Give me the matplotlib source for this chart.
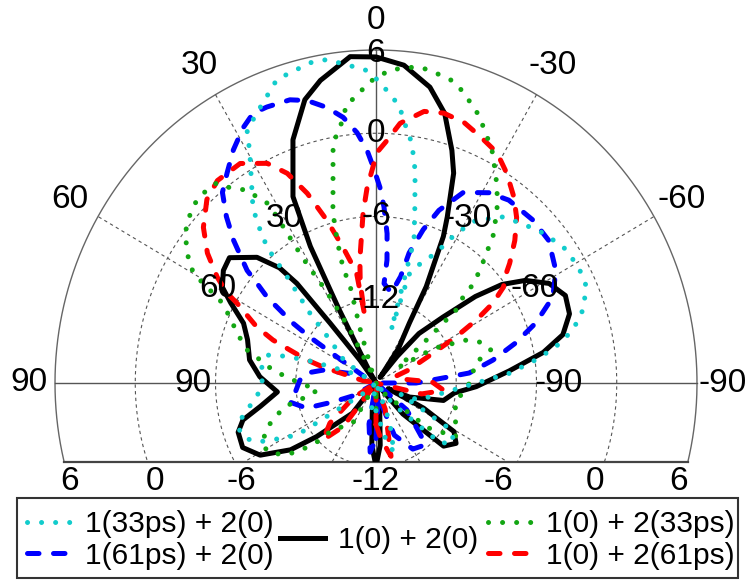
import numpy as np
import matplotlib
matplotlib.use("Agg")
import matplotlib.pyplot as plt
from matplotlib.patches import Rectangle

plt.rcParams['font.family'] = ['Liberation Sans', 'DejaVu Sans']

# ---------------- data (angle in degrees, level in dB) ----------------
theta_black = [-180, -176, -172, -165, -145, -138, -132, -126, -121, -117, -114,
               -112, -104, -97, -92, -85, -80, -76, -71, -66, -61,
               -56.5, -53, -50, -46.5, -42, -39.5, -37, -34, -30, -28.4,
               -25.5, -24, -21, -18.7, -14.8, -10.7, -5.2, 0, 4.7, 10.8,
               14.6, 19.5, 24.8, 26.5, 27.5, 30, 34, 36, 38.5, 39.5,
               41, 44.5, 50.5, 54.6, 59, 62, 66.5, 72, 80, 87,
               95, 101, 105, 109, 115, 121, 127, 131, 141, 150,
               165, 172, 176, 180]
db_black = [-12, -13.5, -16, -18, -18, -15, -11.2, -10.6, -11.2, -14, -17,
            -15.3, -12.8, -12.1, -10.5, -8, -5.3, -3.6, -2.7, -2.5, -3.2,
            -4.6, -6.2, -8.3, -11.1, -13.2, -15.5, -17.5, -15, -13, -10.1,
            -6.3, -4.9, -1.8, -0.3, 2.1, 3.7, 5.0, 5.5, 5.6, 4.2,
            3.1, 0.6, -3.2, -7, -12, -17, -18, -16, -12.5, -8.7,
            -7, -5.3, -3.8, -4.0, -4.6, -5.7, -7.2, -7.9, -8.4, -9.3,
            -10.6, -9.2, -7.7, -7.1, -7.0, -7.9, -10, -12.1, -15.2, -18,
            -18, -16, -13.5, -12]

theta_cyan = [-180, -170, -165, -160, -150, -140, -132, -126, -121, -117,
              -114, -111, -98, -90, -86, -82, -79, -75.5, -71, -66,
              -61, -55, -49, -44, -38.5, -32.5, -29, -25.6, -21, -17.5,
              -16.5, -15.8, -15.4, -13.1, -10.8, -8.8, -7.2, -4.9, -2.9, -0.8,
              2.1, 9, 12, 18.7, 24.6, 27.9, 29.6, 35.9, 37.5, 39.8,
              41, 42.6, 44.4, 46, 48, 55, 62, 72, 74, 76,
              84, 89.5, 95.6, 103.8, 107.4, 112, 115.7, 117.8, 119.6, 122.4,
              123, 124, 130, 150, 170, 180]
db_cyan = [-16, -14, -12.8, -15, -18, -16, -11.5, -10.8, -11.5, -15,
           -16, -14.6, -12.9, -10.5, -8.0, -5.9, -4.3, -2.8, -1.6, -0.8,
           -0.7, -0.9, -1.5, -2.1, -2.7, -4.1, -5.7, -7.6, -8.8, -9.8,
           -14, -10.3, -7.3, -5.2, -2.4, -0.5, 0.4, 2.1, 2.8, 3.7,
           4.6, 5.6, 5.6, 5.1, 3.4, 2.6, 1.1, -2.3, -3.4, -5.3,
           -7.9, -9.6, -10.9, -12.2, -13.4, -15, -17, -13, -11, -9.7,
           -9.3, -9.5, -9.1, -7.7, -7.2, -7.4, -8.2, -9.2, -10, -11,
           -12.8, -14.8, -17, -18, -16, -16]

theta_blue = [-180, -170, -160, -150, -140, -130, -120, -100, -90, -85.9,
              -84.1, -79.3, -74.6, -70.1, -64.9, -58.9, -51.5, -45, -37, -31.6,
              -25.4, -20.7, -17.7, -14.8, -13.5, -10, -4.8, -5.3, -4.4, -2.7,
              -1.2, 0.8, 2.3, 4.5, 7.3, 10.5, 14.2, 17.5, 22.3, 25.3,
              28.4, 32.4, 36.3, 39.9, 43, 46, 49.9, 51, 52.8, 53.8,
              55.2, 56.2, 57.2, 62, 70, 77, 82, 88, 96.8, 102,
              109.2, 113, 118, 130, 160, 170, 175, 180]
db_blue = [-14, -17, -14, -12.5, -12.2, -15, -18, -18, -15, -13,
           -11, -9.1, -7.2, -5.3, -3.4, -2.3, -1.5, -1.4, -1.5, -1.9,
           -2.8, -4.7, -6.4, -8.3, -10.1, -11.4, -10.8, -9.1, -7.2, -5.3,
           -3.9, -2.4, -1.2, 0.1, 1.3, 2.2, 3.0, 3.4, 3.5, 3.5,
           2.9, 1.9, 0.8, -0.1, -1.6, -3.2, -5.4, -6.5, -7.8, -9.1,
           -10.4, -12, -14.5, -17, -16, -13.9, -12.8, -12.3, -11.9, -11.4,
           -12.5, -14.5, -16, -18, -18, -15, -13, -14]

theta_red = [-180, -175, -168, -160, -140, -110, -103, -96, -89, -82,
             -72, -69, -63.2, -61, -58.8, -56.6, -54, -52.2, -49.2, -45.3,
             -41.4, -37.6, -32.9, -28.6, -23.7, -19.3, -14.6, -10.4, -5.5, -2.7,
             -0.2, 0.8, 2.7, 4.5, 7.7, 9.3, 9.8, 10.4, 14.2, 17.4,
             20.6, 23.7, 27.2, 32.7, 39.1, 43.7, 49, 53.4, 57.3, 59.8,
             61, 65.6, 68.1, 69.7, 72.2, 73.8, 80, 100, 122, 130,
             136, 142, 150, 170, 180]
db_red = [-15, -14, -12.6, -16, -18, -18, -14.5, -12.9, -13.8, -16,
          -16.5, -15.4, -13.2, -11.2, -9.2, -7.5, -6.2, -5.9, -4.8, -3.4,
          -2.1, -1.1, 0, 0.9, 1.4, 1.9, 2.1, 1.9, 0.8, -0.5,
          -1.4, -2.4, -3.9, -5.7, -9, -10.7, -13, -9.9, -7.9, -5.7,
          -3.4, -1.5, -0.2, 0.8, 0.8, 0.3, -0.9, -2.3, -3.9, -5.1,
          -6.1, -8.2, -9.7, -11.1, -12.6, -13.9, -17, -18, -16, -13.5,
          -12.3, -14, -18, -18, -15]

theta_green = [-180, -160, -140, -130, -123, -115.7, -103.5, -90, -79, -74.4,
               -70, -65.5, -60, -56, -51, -48.7, -46.4, -45.5, -42.3, -39.3,
               -35.5, -32.6, -29.7, -27.3, -23.6, -21.2, -17.5, -15, -10.1, -7.7,
               -2.7, 1.8, 3.9, 6.1, 8.3, 10.5, 11.3, 12.8, 14.7, 15.8,
               16.5, 15.5, 17, 22, 27, 29, 30, 31, 31.4, 31.6,
               31.7, 32.1, 33.6, 34.7, 37.8, 39.5, 42.2, 45.4, 48.6, 52.9,
               56.5, 59, 60.6, 62.9, 66.5, 70.9, 76.2, 79.2, 83, 86.3,
               90, 96.5, 100, 104, 109, 113, 118, 122.5, 127.4, 130,
               132, 134.5, 136, 149, 158, 180]
db_green = [-16, -18, -17, -13, -10.9, -11.4, -11.9, -11, -10.4, -9.1,
            -9.5, -10.5, -13, -16, -13.5, -10, -9, -7.7, -6, -4.1,
            -2.4, -1.2, -0.1, 0.9, 2.1, 2.9, 3.9, 4.5, 4.9, 5.0,
            4.6, 3.6, 2.7, 2.3, 0.6, -0.4, -1.6, -3.5, -5.3, -7.3,
            -9.3, -10.8, -14, -17.5, -13.5, -11, -9.5, -8.2, -6.7, -5.3,
            -3.9, -2.7, -1.9, -1.1, -0.2, 0.7, 0.8, 0.8, 0.5, -0.1,
            -1.1, -1.8, -2.9, -4.9, -6.1, -7, -8.1, -9.2, -10.2, -11.3,
            -12.3, -13.6, -13, -11, -9.8, -9, -8.4, -8.6, -9.5, -10.3,
            -11.1, -12.1, -13.3, -14.6, -18, -16]

labels = ['1(33ps) + 2(0)', '1(61ps) + 2(0)', '1(0) + 2(0)',
          '1(0) + 2(33ps)', '1(0) + 2(61ps)']

r_min, r_max = -18, 6
ring_values = [-12, -6, 0, 6]
angle_ticks = [0, 30, 60, 90, -30, -60, -90]
bottom_tick_labels = ['6', '0', '-6', '-12', '-6', '0', '6']

# ---------------- figure ----------------
W, H = 754, 580
fig = plt.figure(figsize=(W / 100, H / 100), dpi=100)
# polar axes box (elliptical), bottom part falls below the figure and is cut
ax = fig.add_axes([55 / W, -136 / H, 642 / W, 666 / H], projection='polar')
ax.set_aspect('auto')
ax.set_theta_zero_location('N')
ax.set_theta_direction(1)
ax.set_rlim(r_min, r_max)
ax.grid(False)
ax.set_xticks([])
ax.set_yticks([])
ax.spines['polar'].set_visible(False)
ax.patch.set_visible(False)

ybot = 0.3814  # axes-fraction height of the cut line


def clip(artist):
    rect = Rectangle((-0.2, ybot), 1.4, 1.4, transform=ax.transAxes)
    artist.set_clip_path(rect)
    return artist


grid_col = '#555555'
th_full = np.linspace(0, 2 * np.pi, 721)
for v in ring_values:
    if v == r_max:
        ln, = ax.plot(th_full, np.full_like(th_full, v), color='#666666', lw=1.0, zorder=1)
    else:
        ln, = ax.plot(th_full, np.full_like(th_full, v), color=grid_col, lw=0.8,
                      ls=(0, (3, 3)), zorder=1)
    clip(ln)
for a in range(0, 360, 30):
    t = np.deg2rad(a)
    if a % 90 == 0:
        ln, = ax.plot([t, t], [r_min, r_max], color='#555555', lw=1.0, zorder=1)
    else:
        ln, = ax.plot([t, t], [r_min, r_max], color=grid_col, lw=0.8,
                      ls=(0, (3, 3)), zorder=1)
    clip(ln)

# bottom cut line
xc = np.sqrt(1 - (2 * (0.5 - ybot)) ** 2) / 2
ax.plot([0.5 - xc, 0.5 + xc], [ybot, ybot], transform=ax.transAxes,
        color='#444444', lw=1.6, clip_on=False, zorder=2)

# ---------------- curves ----------------
lw = 3.6
dot = (0, (0.01, 2.8))
dash = (0, (2.3, 2.9))
c_cyan = '#12CCCC'
c_green = '#13A613'

l_black, = ax.plot(np.deg2rad(theta_black), db_black, color='black', lw=lw,
                   solid_joinstyle='round', zorder=3, label=labels[2])
l_blue, = ax.plot(np.deg2rad(theta_blue), db_blue, color='#0000FF', lw=lw, ls=dash,
                  dash_capstyle='round', zorder=4, label=labels[1])
l_red, = ax.plot(np.deg2rad(theta_red), db_red, color='#FF0000', lw=lw, ls=dash,
                 dash_capstyle='round', zorder=4, label=labels[4])
l_green, = ax.plot(np.deg2rad(theta_green), db_green, color=c_green, lw=lw, ls=dot,
                   dash_capstyle='round', zorder=5, label=labels[3])
l_cyan, = ax.plot(np.deg2rad(theta_cyan), db_cyan, color=c_cyan, lw=lw, ls=dot,
                  dash_capstyle='round', zorder=5, label=labels[0])
for ln in (l_black, l_blue, l_red, l_green, l_cyan):
    clip(ln)

# ---------------- labels ----------------
fs = 24
span = r_max - r_min


def rv(frac):
    return r_min + frac * span


for a in angle_ticks:
    rr = 1.09 if a == 0 else (1.08 if a in (90, -90) else 1.10)
    ax.text(np.deg2rad(a), rv(rr), str(a), ha='center', va='center',
            fontsize=fs, zorder=6)
    if a != 0:
        ax.text(np.deg2rad(a), rv(0.57), str(a), ha='center', va='center',
                fontsize=fs, zorder=6)
for v in ring_values:
    ax.text(0, v - (0.25 if v == r_max else 0), str(v), ha='center', va='center',
            fontsize=fs, zorder=6)

bx = [70, 155, 241, 376, 498, 595, 679]
for x, s in zip(bx, bottom_tick_labels):
    fig.text(x / W, 1 - 482 / H, s, ha='center', va='center', fontsize=fs)

# ---------------- legend ----------------
lfs = 21.5
common = dict(frameon=False, borderpad=0, borderaxespad=0, handlelength=1.5,
              handletextpad=0.45, labelspacing=0.12, fontsize=lfs, loc='center left')
fig.legend(handles=[l_cyan, l_blue], labels=[labels[0], labels[1]],
           bbox_to_anchor=(27 / W, 1 - 540 / H), **common)
fig.legend(handles=[l_black], labels=[labels[2]],
           bbox_to_anchor=(280 / W, 1 - 540 / H), **common)
fig.legend(handles=[l_green, l_red], labels=[labels[3], labels[4]],
           bbox_to_anchor=(488 / W, 1 - 540 / H), **common)
fig.add_artist(Rectangle((17 / W, 2 / H), 721 / W, 80 / H, transform=fig.transFigure,
                         fill=False, lw=1.5, ec='#333333'))

fig.savefig('out.png', dpi=100)
